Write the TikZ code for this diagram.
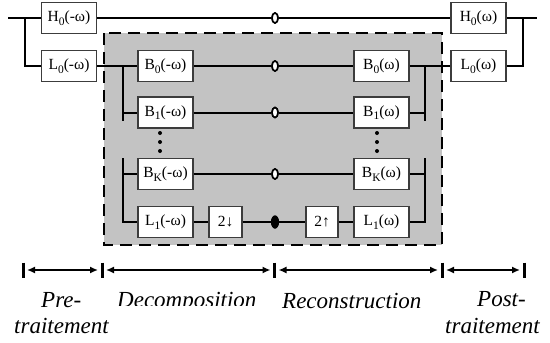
\documentclass[tikz,border=0pt]{standalone}
\usepackage{fontspec}
\setmainfont{Liberation Serif}
\usetikzlibrary{arrows.meta,shapes.geometric}
\definecolor{panel}{RGB}{195,195,195}
\definecolor{boxline}{RGB}{60,60,60}
\newcommand{\sbs}[1]{\raisebox{-0.22em}{\fontsize{11.5}{11.5}\selectfont #1}}
\begin{document}
\begin{tikzpicture}[x=1pt,y=-1pt,
  blk/.style={draw=boxline, line width=1.2pt, fill=white, minimum width=55pt,
    minimum height=31pt, inner sep=0pt, font=\fontsize{15.5}{15.5}\selectfont},
  sblk/.style={blk, minimum width=33pt},
  wire/.style={line width=2pt},
  opn/.style={ellipse, draw, line width=1.6pt, fill=white, minimum width=6pt,
    minimum height=10pt, inner sep=0pt},
  cls/.style={ellipse, fill=black, minimum width=8pt, minimum height=13pt, inner sep=0pt},
  tickmark/.style={line width=3pt},
  dim/.style={line width=1.5pt, {Latex[length=8pt,width=7pt]}-{Latex[length=8pt,width=7pt]}},
  lab/.style={anchor=base west, inner sep=0pt, font=\fontsize{23}{23}\selectfont\itshape}
]
\useasboundingbox (0,0) rectangle (550,343);

% shaded panel
\fill[panel] (104,33) rectangle (442,245);
\draw[line width=2.5pt, dash pattern=on 12pt off 7pt] (104,33) rectangle (442,245);

% blocks
\node[blk] (H0m) at (69,18) {H\sbs{0}(-ω)};
\node[blk] (L0m) at (69,66) {L\sbs{0}(-ω)};
\node[blk] (H0p) at (478.5,18) {H\sbs{0}(ω)};
\node[blk] (L0p) at (478.5,66) {L\sbs{0}(ω)};

\node[blk] (B0m) at (165.5,66) {B\sbs{0}(-ω)};
\node[blk] (B1m) at (165.5,112.5) {B\sbs{1}(-ω)};
\node[blk] (BKm) at (165.5,174) {B\sbs{K}(-ω)};
\node[blk] (L1m) at (165.5,222) {L\sbs{1}(-ω)};
\node[sblk] (Dn) at (225.5,222) {2↓};

\node[blk] (B0p) at (381.5,66) {B\sbs{0}(ω)};
\node[blk] (B1p) at (381.5,112.5) {B\sbs{1}(ω)};
\node[blk] (BKp) at (381.5,174) {B\sbs{K}(ω)};
\node[blk] (L1p) at (381.5,222) {L\sbs{1}(ω)};
\node[sblk, minimum width=32pt] (Up) at (322,222) {2↑};

% junction circles
\node[opn] (c0) at (275,18) {};
\node[opn] (c1) at (275,66) {};
\node[opn] (c2) at (275,112.5) {};
\node[opn] (c3) at (275,174) {};
\node[cls] (c4) at (275,222) {};

% coordinates
\coordinate (in) at (8,18);
\coordinate (sL) at (25,18);
\coordinate (out) at (537,18);
\coordinate (sR) at (523,18);
\coordinate (bL) at (123,66);
\coordinate (bL1) at (123,121);
\coordinate (bL2) at (123,158);
\coordinate (bL3) at (123,222);
\coordinate (bR) at (425,66);
\coordinate (bR1) at (425,121);
\coordinate (bR2) at (425,158);
\coordinate (bR3) at (425,222);

% wires
\draw[wire] (in) -- (H0m.west);
\draw[wire] (sL) |- (L0m.west);
\draw[wire] (H0m.east) -- (c0) -- (H0p.west);
\draw[wire] (H0p.east) -- (out);
\draw[wire] (sR) |- (L0p.east);

\draw[wire] (L0m.east) -- (B0m.west);
\draw[wire] (bL) -- (bL1);
\draw[wire] (bL2) -- (bL3) -- (L1m.west);
\draw[wire] (bL) |- (B1m.west);
\draw[wire] (bL2) |- (BKm.west);

\draw[wire] (B0p.east) -- (L0p.west);
\draw[wire] (bR) -- (bR1);
\draw[wire] (bR2) -- (bR3) -- (L1p.east);
\draw[wire] (bR) |- (B1p.east);
\draw[wire] (bR2) |- (BKp.east);

\draw[wire] (B0m.east) -- (c1) -- (B0p.west);
\draw[wire] (B1m.east) -- (c2) -- (B1p.west);
\draw[wire] (BKm.east) -- (c3) -- (BKp.west);
\draw[wire] (L1m.east) -- (Dn.west);
\draw[wire] (Dn.east) -- (c4) -- (Up.west);
\draw[wire] (Up.east) -- (L1p.west);

% redraw circles on top
\node[opn] at (c0) {};
\node[opn] at (c1) {};
\node[opn] at (c2) {};
\node[opn] at (c3) {};
\node[cls] at (c4) {};

% vertical dots
\foreach \yy in {133,142,151} {
  \fill (160,\yy) circle (2pt);
  \fill (377,\yy) circle (2pt);
}

% dimension ticks and arrows
\coordinate (t1) at (23,270);
\coordinate (t2) at (102,270);
\coordinate (t3) at (274.5,270);
\coordinate (t4) at (442,270);
\coordinate (t5) at (524,270);
\foreach \t in {t1,t2,t3,t4,t5} {
  \draw[tickmark] (\t) ++(0,-7.5) -- ++(0,15);
}
\draw[dim] ([xshift=4pt]t1) -- ([xshift=-4pt]t2);
\draw[dim] ([xshift=4pt]t2) -- ([xshift=-4pt]t3);
\draw[dim] ([xshift=4pt]t3) -- ([xshift=-4pt]t4);
\draw[dim] ([xshift=4pt]t4) -- ([xshift=-4pt]t5);

% labels
\node[lab] (pre) at (41,307) {Pre-};
\node[lab] (pretr) at (14,333) {traitement};
\begin{scope}
  \clip (100,280) rectangle (280,305);
  \node[lab] (dec) at (117,307) {Decomposition};
\end{scope}
\node[lab] (rec) at (282,308) {Reconstruction};
\node[lab] (post) at (477,306) {Post-};
\node[lab] (posttr) at (445,333) {traitement};
\end{tikzpicture}
\end{document}
